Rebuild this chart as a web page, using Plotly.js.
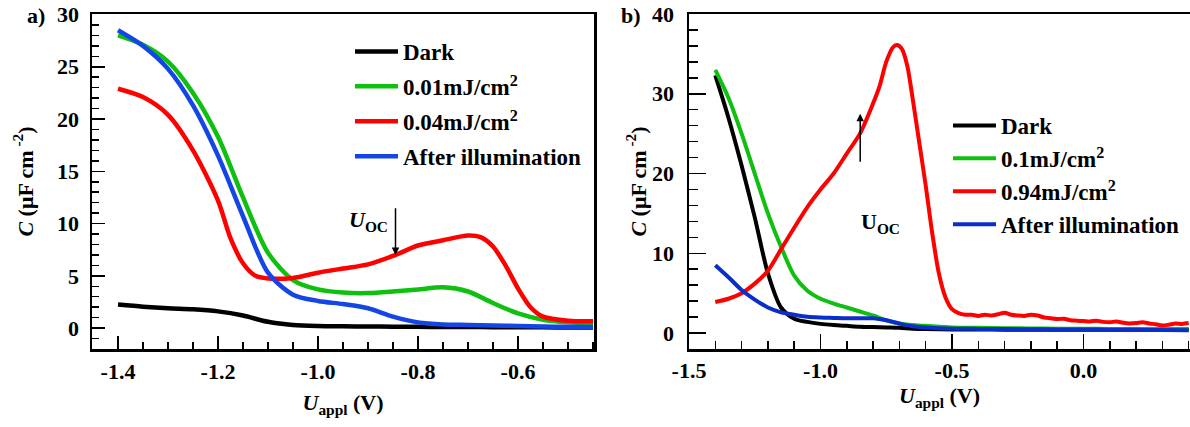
<!DOCTYPE html>
<html>
<head>
<meta charset="utf-8">
<script src="https://cdn.plot.ly/plotly-3.0.1.min.js"></script>
<style>
html,body{margin:0;padding:0;background:#fff;}
#chart{width:1190px;height:427px;}
</style>
</head>
<body>
<div id="chart"></div>
<script>
// ---------- Panel a) data ----------
const aVolt  = [-1.40,-1.35,-1.30,-1.25,-1.20,-1.15,-1.10,-1.05,-1.00,-0.95,-0.90,-0.85,-0.80,-0.75,-0.70,-0.65,-0.60,-0.55,-0.50,-0.45];
const aDark  = [2.25,2.05,1.9,1.8,1.6,1.2,0.6,0.3,0.2,0.17,0.15,0.14,0.12,0.11,0.1,0.09,0.08,0.07,0.06,0.05];
const aGreen = [28.0,27.1,25.5,22.5,18.3,12.5,7.2,4.6,3.7,3.4,3.35,3.5,3.7,3.9,3.5,2.4,1.4,0.8,0.55,0.45];
const aBlue  = [28.5,27.0,24.8,21.3,16.5,10.7,5.3,3.2,2.6,2.3,1.9,1.1,0.55,0.35,0.3,0.25,0.2,0.15,0.12,0.1];
const aRedVolt = [-1.40,-1.35,-1.30,-1.25,-1.20,-1.175,-1.15,-1.125,-1.10,-1.05,-1.00,-0.95,-0.90,-0.85,-0.80,-0.75,-0.70,-0.675,-0.65,-0.625,-0.60,-0.575,-0.55,-0.50,-0.45];
const aRed     = [22.9,22.1,20.4,17.0,12.2,8.6,6.2,5.0,4.75,4.8,5.3,5.7,6.1,6.9,7.9,8.4,8.85,8.7,7.8,6.0,3.8,2.0,1.1,0.7,0.65];
const aNames = ['Dark','0.01mJ/cm<sup>2</sup>','0.04mJ/cm<sup>2</sup>','After illumination'];

// ---------- Panel b) data ----------
const bVolt  = [-1.40,-1.35,-1.30,-1.25,-1.20,-1.15,-1.10,-1.05,-1.00,-0.95,-0.90,-0.85,-0.80,-0.75,-0.70,-0.65,-0.60,-0.50,-0.40,-0.30,-0.20,-0.10,0.00,0.10,0.20,0.30,0.40];
const bDark  = [32.3,27.0,21.0,14.5,7.5,3.2,1.8,1.4,1.15,1.0,0.9,0.8,0.75,0.7,0.65,0.55,0.5,0.45,0.45,0.42,0.4,0.4,0.4,0.4,0.4,0.4,0.4];
const bGreen = [33.0,29.5,25.0,20.0,15.0,10.8,7.2,5.3,4.3,3.7,3.2,2.7,2.2,1.6,1.2,1.0,0.9,0.7,0.65,0.6,0.58,0.55,0.55,0.52,0.5,0.5,0.5];
const bBlue  = [8.5,7.0,5.4,4.2,3.2,2.6,2.3,2.05,1.95,1.9,1.85,1.85,1.85,1.6,1.2,0.85,0.7,0.55,0.52,0.5,0.48,0.46,0.45,0.42,0.4,0.37,0.35];
const bRedVolt = [-1.40,-1.35,-1.30,-1.25,-1.20,-1.15,-1.10,-1.05,-1.00,-0.95,-0.90,-0.85,-0.80,-0.775,-0.75,-0.725,-0.71,-0.69,-0.67,-0.65,-0.625,-0.60,-0.575,-0.55,-0.525,-0.50,-0.475,-0.45,
  -0.425,-0.40,-0.375,-0.35,-0.325,-0.30,-0.275,-0.25,-0.225,-0.20,-0.175,-0.15,-0.125,-0.10,-0.075,-0.05,-0.025,0.00,0.025,0.05,0.075,0.10,0.125,0.15,0.175,0.20,0.225,0.25,0.275,0.30,0.325,0.35,0.375,0.40];
const bRed = [3.9,4.3,5.0,6.2,7.8,10.5,13.2,15.8,18.0,20.0,22.5,25.0,28.8,31.0,34.0,35.8,36.1,35.6,33.5,29.5,24.0,18.5,12.5,7.5,4.5,3.0,2.5,2.3,
  2.3,2.15,2.3,2.2,2.35,2.55,2.3,2.2,2.15,2.3,2.2,1.95,1.85,1.75,1.8,1.6,1.55,1.5,1.45,1.55,1.4,1.35,1.45,1.3,1.2,1.25,1.35,1.2,1.1,0.95,1.05,1.2,1.15,1.25];
const bNames = ['Dark','0.1mJ/cm<sup>2</sup>','0.94mJ/cm<sup>2</sup>','After illumination'];

// ---------- Tick labels ----------
const aXTickVals = [-1.4,-1.2,-1.0,-0.8,-0.6];
const aXTickText = ['-1.4','-1.2','-1.0','-0.8','-0.6'];
const aYTickVals = [0,5,10,15,20,25,30];
const bXTickVals = [-1.5,-1.0,-0.5,0.0];
const bXTickText = ['-1.5','-1.0','-0.5','0.0'];
const bYTickVals = [0,10,20,30,40];

const colors = {black:'#000000', green:'#10C010', red:'#FF0000', blueA:'#1446E6', blueB:'#0A2FC8'};
const FONT = 'Liberation Serif';

function tr(x, y, name, color, xa, ya, lg, w) {
  return {x:x, y:y, name:name, type:'scatter', mode:'lines',
    line:{color:color, width:w, shape:'spline', smoothing:0.8},
    xaxis:xa, yaxis:ya, legend:lg, legendgroup:lg+name, hoverinfo:'skip'};
}

const data = [
  tr(aVolt, aDark, aNames[0], colors.black, 'x','y','legend',4.5),
  tr(aVolt, aGreen, aNames[1], colors.green, 'x','y','legend',4.5),
  tr(aRedVolt, aRed, aNames[2], colors.red, 'x','y','legend',4.5),
  tr(aVolt, aBlue, aNames[3], colors.blueA, 'x','y','legend',4.5),
  tr(bVolt, bDark, bNames[0], colors.black, 'x2','y2','legend2',4),
  tr(bVolt, bGreen, bNames[1], colors.green, 'x2','y2','legend2',4),
  tr(bRedVolt, bRed, bNames[2], colors.red, 'x2','y2','legend2',4),
  tr(bVolt, bBlue, bNames[3], colors.blueB, 'x2','y2','legend2',4)
];

const tickFont = {family:FONT, size:22, color:'#000', weight:'bold'};
const titleFont = {family:FONT, size:22, color:'#000', weight:'bold'};

function axisBase() {
  return {showgrid:false, zeroline:false, showline:true, linecolor:'#000', linewidth:2.5,
    ticks:'inside', tickcolor:'#000', tickwidth:1.5, tickfont:tickFont, fixedrange:true};
}

const layout = {
  width:1190, height:427,
  margin:{l:92, r:0, t:14, b:78, autoexpand:false},
  paper_bgcolor:'#fff', plot_bgcolor:'#fff',
  font:{family:FONT, color:'#000'},
  showlegend:true,
  xaxis: Object.assign(axisBase(), {domain:[0, 502/1098], range:[-1.452,-0.448], mirror:true,
    tickmode:'array', tickvals:aXTickVals, ticktext:aXTickText, ticklen:13,
    minor:{tickmode:'linear', tick0:-1.4, dtick:0.05, ticks:'inside', ticklen:7, tickwidth:1.5, tickcolor:'#000'},
    ticklabelstandoff:1,
    title:{text:'<i>U</i><sub>appl</sub> (V)', font:titleFont, standoff:12}, anchor:'y'}),
  yaxis: Object.assign(axisBase(), {range:[-2.0,30.05], mirror:true,
    tickmode:'array', tickvals:aYTickVals, ticklen:13,
    minor:{tickmode:'linear', tick0:0, dtick:1, ticks:'inside', ticklen:7, tickwidth:1.5, tickcolor:'#000'},
    ticklabelstandoff:6,
    title:{text:'<i>C</i> (μF cm<sup> -2</sup>)', font:titleFont, standoff:18}, anchor:'x'}),
  xaxis2: Object.assign(axisBase(), {domain:[597/1098, 1], range:[-1.5,0.405], mirror:true,
    tickmode:'array', tickvals:bXTickVals, ticktext:bXTickText, ticklen:15,
    minor:{tickmode:'linear', tick0:-1.5, dtick:0.1, ticks:'inside', ticklen:8, tickwidth:1.5, tickcolor:'#000'},
    ticklabelstandoff:0,
    title:{text:'<i>U</i><sub>appl</sub> (V)', font:titleFont, standoff:0}, anchor:'y2'}),
  yaxis2: Object.assign(axisBase(), {range:[-2.0,40.0], mirror:false,
    tickmode:'array', tickvals:bYTickVals, ticklen:17,
    minor:{tickmode:'linear', tick0:0, dtick:2, ticks:'inside', ticklen:9, tickwidth:1.5, tickcolor:'#000'},
    ticklabelstandoff:8,
    title:{text:'<i>C</i> (μF cm<sup> -2</sup>)', font:titleFont, standoff:0}, anchor:'x2'}),
  legend:{x:(350-92)/1098, y:(349-30)/335, xanchor:'left', yanchor:'top', bgcolor:'rgba(0,0,0,0)',
    borderwidth:0, font:{family:FONT, size:23, color:'#000', weight:'bold'}, itemwidth:43, tracegroupgap:2,
    traceorder:'grouped'},
  legend2:{x:(948-92)/1098, y:(349-104)/335, xanchor:'left', yanchor:'top', bgcolor:'rgba(0,0,0,0)',
    borderwidth:0, font:{family:FONT, size:23, color:'#000', weight:'bold'}, itemwidth:43, tracegroupgap:0,
    traceorder:'normal'},
  annotations:[
    {xref:'paper', yref:'paper', x:(36-92)/1098, y:(349-15)/335, text:'a)', showarrow:false,
      xanchor:'center', yanchor:'middle', font:{family:FONT, size:22, color:'#000', weight:'bold'}},
    {xref:'paper', yref:'paper', x:(631-92)/1098, y:(349-15)/335, text:'b)', showarrow:false,
      xanchor:'center', yanchor:'middle', font:{family:FONT, size:22, color:'#000', weight:'bold'}},
    {xref:'x', yref:'y', x:-0.845, y:7.0, axref:'x', ayref:'y', ax:-0.845, ay:11.6, text:'',
      showarrow:true, arrowhead:2, arrowsize:1, arrowwidth:1.5, arrowcolor:'#000'},
    {xref:'x', yref:'y', x:-0.856, y:10.2, text:'<i>U</i><sub>OC</sub>', showarrow:false,
      xanchor:'right', yanchor:'middle', font:{family:FONT, size:22, color:'#000', weight:'bold'}},
    {xref:'x2', yref:'y2', x:-0.849, y:27.5, axref:'x2', ayref:'y2', ax:-0.849, ay:21.3, text:'',
      showarrow:true, arrowhead:2, arrowsize:1, arrowwidth:1.5, arrowcolor:'#000'},
    {xref:'x2', yref:'y2', x:-0.852, y:13.8, text:'U<sub>OC</sub>', showarrow:false,
      xanchor:'left', yanchor:'middle', font:{family:FONT, size:22, color:'#000', weight:'bold'}}
  ]
};

Plotly.newPlot('chart', data, layout, {staticPlot:true, displayModeBar:false});
</script>
</body>
</html>
